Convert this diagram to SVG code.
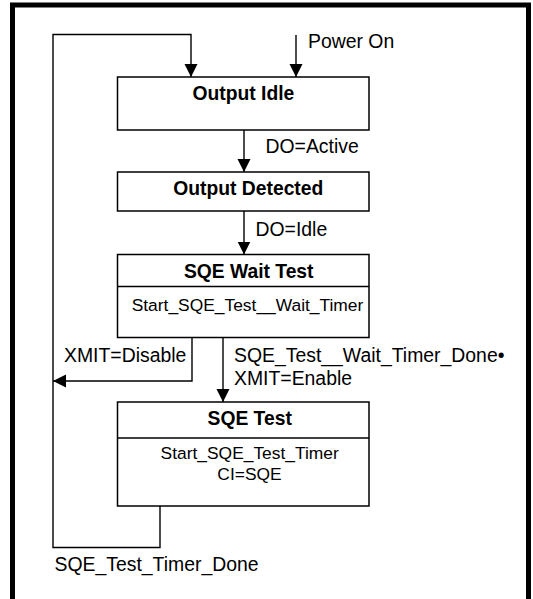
<svg xmlns="http://www.w3.org/2000/svg" width="533" height="599" viewBox="0 0 533 599">
<style>
.box{fill:#fff;stroke:#000;stroke-width:1.5}
.div{stroke:#000;stroke-width:1.3}
.ln{fill:none;stroke:#000;stroke-width:1.4}
.arr{marker-end:url(#ah)}
.t{font-family:"Liberation Sans",Arial,sans-serif;font-size:19.4px;fill:#000}
.b{font-family:"Liberation Sans",Arial,sans-serif;font-size:19.3px;font-weight:bold;fill:#000}
.s{font-family:"Liberation Sans",Arial,sans-serif;font-size:17.4px;fill:#000}
.m{text-anchor:middle}
</style>
<defs>
<marker id="ah" markerUnits="userSpaceOnUse" markerWidth="14" markerHeight="14" refX="13" refY="6.5" orient="auto">
<path d="M0,0 L13,6.5 L0,13 z" fill="#000"/>
</marker>
</defs>
<rect width="533" height="599" fill="#fff"/>
<path d="M12.5,610 V5 H528.5 V610" fill="none" stroke="#000" stroke-width="5"/>
<g id="connectors">
<path class="ln arr" d="M160,506 V547.5 H53 V34.5 H191 V77"/>
<path class="ln arr" d="M296,35 V77"/>
<text class="t" x="308" y="48">Power On</text>
<path class="ln arr" d="M244,130 V172"/>
<text class="t" x="265.5" y="153">DO=Active</text>
<path class="ln arr" d="M244,211 V254.5"/>
<text class="t" x="255.5" y="236">DO=Idle</text>
<path class="ln arr" d="M192,337.5 V381 H53"/>
<text class="t" x="64" y="361.5">XMIT=Disable</text>
<path class="ln arr" d="M223,337.5 V402"/>
<text class="t" x="234" y="361.5">SQE_Test__Wait_Timer_Done•</text>
<text class="t" x="234" y="385">XMIT=Enable</text>
<text class="t" x="54.5" y="571">SQE_Test_Timer_Done</text>
</g>
<g id="output-idle">
<rect class="box" x="117.5" y="77" width="251.5" height="53"/>
<text class="b m" x="243.4" y="100">Output Idle</text>
</g>
<g id="output-detected">
<rect class="box" x="117.5" y="172" width="251.5" height="39"/>
<text class="b m" x="248.3" y="195">Output Detected</text>
</g>
<g id="sqe-wait-test">
<rect class="box" x="117.5" y="254.5" width="251.5" height="83"/>
<line class="div" x1="117.5" y1="286.5" x2="369" y2="286.5"/>
<text class="b m" x="248.7" y="278">SQE Wait Test</text>
<text class="s" x="131.7" y="311">Start_SQE_Test__Wait_Timer</text>
</g>
<g id="sqe-test">
<rect class="box" x="117.5" y="402" width="251.5" height="104"/>
<line class="div" x1="117.5" y1="438" x2="369" y2="438"/>
<text class="b m" x="249.7" y="425">SQE Test</text>
<text class="s m" x="249.7" y="458.5">Start_SQE_Test_Timer</text>
<text class="s m" x="249.5" y="480">CI=SQE</text>
</g>
</svg>
